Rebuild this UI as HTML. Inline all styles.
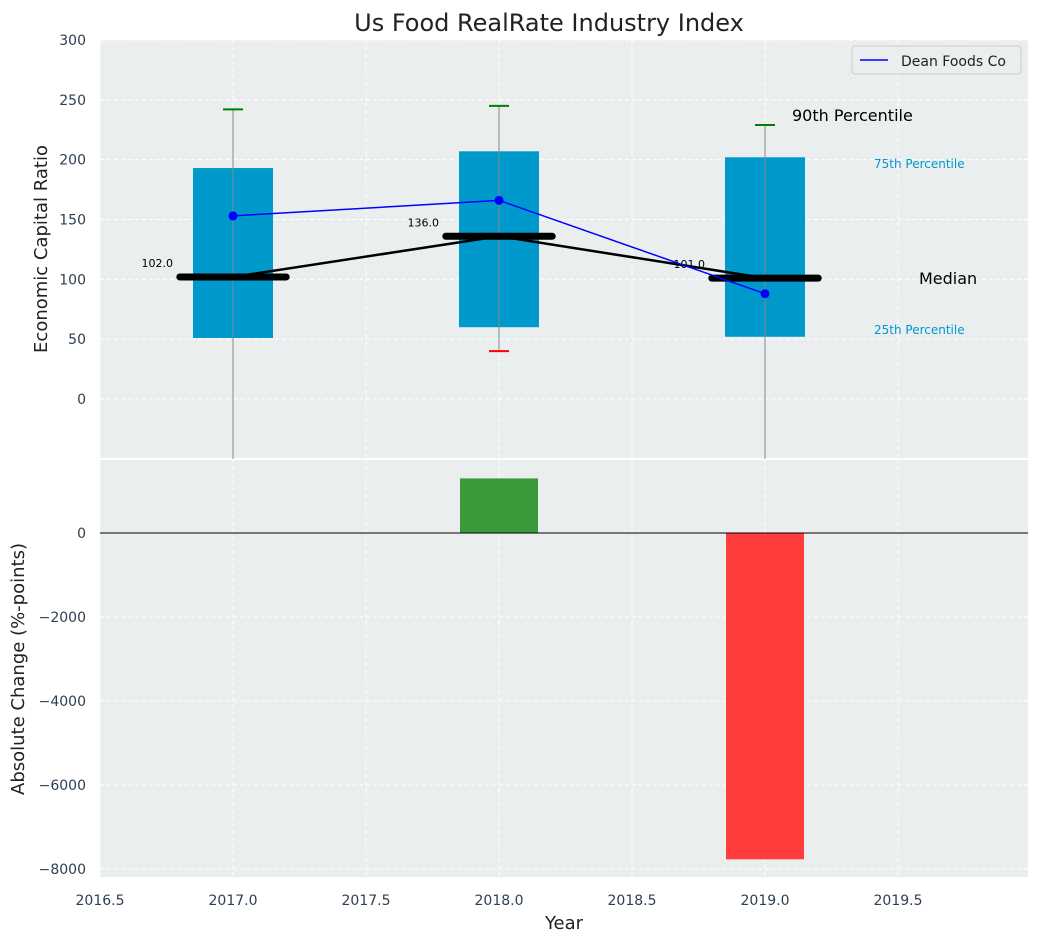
<!DOCTYPE html>
<html><head><meta charset="utf-8">
<style>
body{margin:0;background:#fff;font-family:"Liberation Sans","DejaVu Sans",sans-serif;}
svg text{font-family:"DejaVu Sans","Liberation Sans",sans-serif;}
</style></head>
<body>
<svg id="chart" width="1039" height="942" xmlns="http://www.w3.org/2000/svg"></svg>
<script>
const years=[2017,2018,2019];
const q25=[51,60,52];
const q75=[193,207,202];
const p90=[242,245,229];
const p10=[-60,40,-60];
const medians=[102,136,101];
const medianLabels=["102.0","136.0","101.0"];
const company=[153,166,88];
const changes=[0,1300,-7770];
const xTicks=[2016.5,2017,2017.5,2018,2018.5,2019,2019.5];
const yTopTicks=[0,50,100,150,200,250,300];
const yBotTicks=[0,-2000,-4000,-6000,-8000];

const NS="http://www.w3.org/2000/svg";
const svg=document.getElementById('chart');
const L=100,R=1028,T1=40,B1=459,T2=459,B2=877;
const x=v=>100+(v-2016.5)*266;
const y1=v=>399-v*(359/300);
const y2=v=>533-v*0.042;
function el(tag,attrs,name,text){const e=document.createElementNS(NS,tag);for(const k in attrs)e.setAttribute(k,attrs[k]);


if(text!==undefined)e.textContent=text;svg.appendChild(e);return e;}

el('rect',{x:L,y:T1,width:R-L,height:B1-T1,fill:'#eaeeef'},'top-plot-area');
el('rect',{x:L,y:T2,width:R-L,height:B2-T2,fill:'#eaeeef'},'bottom-plot-area');
el('line',{x1:L,x2:R,y1:459,y2:459,stroke:'#fff','stroke-width':2},'panel-divider');
// grids
xTicks.forEach(t=>{el('line',{x1:x(t),x2:x(t),y1:T1,y2:B1,stroke:'#fff','stroke-dasharray':'4,3'},'top-x-grid');
el('line',{x1:x(t),x2:x(t),y1:T2,y2:B2,stroke:'#fff','stroke-dasharray':'4,3'},'bottom-x-grid');
el('text',{x:x(t),y:905,'text-anchor':'middle','font-size':14,fill:'#2e3f52'},'x-tick-label',t.toFixed(1));});
yTopTicks.forEach(t=>{el('line',{x1:L,x2:R,y1:y1(t),y2:y1(t),stroke:'#fff','stroke-dasharray':'4,3'},'top-y-grid');
el('text',{x:86,y:y1(t)+5,'text-anchor':'end','font-size':14,fill:'#2e3f52'},'top-y-tick-label',String(t));});
yBotTicks.forEach(t=>{el('line',{x1:L,x2:R,y1:y2(t),y2:y2(t),stroke:'#fff','stroke-dasharray':'4,3'},'bottom-y-grid');
el('text',{x:86,y:y2(t)+5,'text-anchor':'end','font-size':14,fill:'#2e3f52'},'bottom-y-tick-label',(t<0?'\u2212':'')+Math.abs(t));});
// boxes
const clip=v=>Math.max(v,-50);
years.forEach((yr,i)=>{
 el('rect',{x:x(yr)-40,y:y1(q75[i]),width:80,height:y1(q25[i])-y1(q75[i]),fill:'#0099cc'},'iqr-box-'+yr);
 el('line',{x1:x(yr),x2:x(yr),y1:y1(p90[i]),y2:y1(clip(p10[i])),stroke:'#888','stroke-width':1},'whisker-'+yr);
 el('line',{x1:x(yr)-10,x2:x(yr)+10,y1:y1(p90[i]),y2:y1(p90[i]),stroke:'green','stroke-width':2},'p90-cap-'+yr);
 if(p10[i]>-50)el('line',{x1:x(yr)-10,x2:x(yr)+10,y1:y1(p10[i]),y2:y1(p10[i]),stroke:'red','stroke-width':2},'p10-cap-'+yr);
 el('line',{x1:x(yr-0.2),x2:x(yr+0.2),y1:y1(medians[i]),y2:y1(medians[i]),stroke:'#000','stroke-width':7,'stroke-linecap':'round'},'median-bar-'+yr);
 el('text',{x:x(yr)-60,y:y1(medians[i])-10,'text-anchor':'end','font-size':11,fill:'#000'},'median-label-'+yr,medianLabels[i]);
});
el('polyline',{points:years.map((yr,i)=>x(yr)+','+y1(medians[i])).join(' '),fill:'none',stroke:'#000','stroke-width':2.5},'median-line');
el('polyline',{points:years.map((yr,i)=>x(yr)+','+y1(company[i])).join(' '),fill:'none',stroke:'blue','stroke-width':1.5},'company-line');
years.forEach((yr,i)=>el('circle',{cx:x(yr),cy:y1(company[i]),r:4.5,fill:'blue'},'company-point-'+yr));
// annotations
el('text',{x:792,y:121,'font-size':16,fill:'#000'},'p90-annotation','90th Percentile');
el('text',{x:874,y:168,'font-size':12,fill:'#0099cc'},'p75-annotation','75th Percentile');
el('text',{x:919,y:284,'font-size':16,fill:'#000'},'median-annotation','Median');
el('text',{x:874,y:334,'font-size':12,fill:'#0099cc'},'p25-annotation','25th Percentile');
// bars
years.forEach((yr,i)=>{if(!changes[i])return;const a=y2(Math.max(changes[i],0)),b=y2(Math.min(changes[i],0));
 el('rect',{x:x(yr)-39,y:a,width:78,height:b-a,fill:changes[i]>0?'#3a9a3a':'#ff3d3d'},'change-bar-'+yr);});
el('line',{x1:L,x2:R,y1:y2(0),y2:y2(0),stroke:'#000','stroke-width':1},'zero-line');
// legend
el('rect',{x:852,y:46,width:169,height:28,rx:3,fill:'#eaeeef',stroke:'#ccc'},'legend-box');
el('line',{x1:860,x2:888,y1:60,y2:60,stroke:'blue','stroke-width':1.5},'legend-swatch');
el('text',{x:901,y:66,'font-size':14,fill:'#222'},'legend-label','Dean Foods Co');
// titles
el('text',{x:549,y:31,'text-anchor':'middle','font-size':24,fill:'#222'},'chart-title','Us Food RealRate Industry Index');
el('text',{x:564,y:929,'text-anchor':'middle','font-size':18,fill:'#222'},'x-axis-title','Year');
el('text',{x:47,y:249,'text-anchor':'middle','font-size':18,fill:'#222',transform:'rotate(-90 47 249)'},'top-y-axis-title','Economic Capital Ratio');
el('text',{x:24,y:669,'text-anchor':'middle','font-size':18,fill:'#222',transform:'rotate(-90 24 669)'},'bottom-y-axis-title','Absolute Change (%-points)');
</script>
</body></html>
